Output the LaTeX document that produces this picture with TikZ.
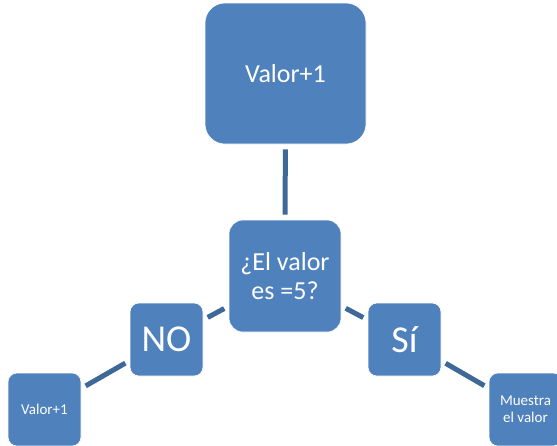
\documentclass[tikz,border=0pt]{standalone}
\usepackage{fontspec}
\setmainfont{Carlito}
\usepackage{tikz}

\definecolor{cajaazul}{RGB}{79,129,189}
\definecolor{lineaazul}{RGB}{62,104,152}

\begin{document}
\begin{tikzpicture}[x=1pt, y=-1pt,
    caja/.style={rectangle, fill=cajaazul, draw=white, line width=0.6pt, text=white, align=center, inner sep=0pt},
    enlace/.style={draw=lineaazul, line width=5pt, shorten <=5pt, shorten >=5pt}]

    \useasboundingbox (0,0) rectangle (557,445);
    \clip (0,0) rectangle (557,445);

    \node[caja, minimum width=161pt, minimum height=141pt, rounded corners=20pt, font=\fontsize{26}{30}\selectfont] (paso) at (285.5,73.5) {Valor+1};

    \node[caja, minimum width=112pt, minimum height=112pt, rounded corners=14pt, font=\fontsize{26}{29.5}\selectfont] (pregunta) at (285,276) {¿El valor\\es =5?};


    \node[caja, minimum width=73pt, minimum height=73pt, rounded corners=9pt, font=\fontsize{38}{44}\selectfont] (no) at (166.5,339.5) {NO};

    \node[caja, minimum width=73pt, minimum height=73pt, rounded corners=9pt, font=\fontsize{38}{44}\selectfont] (si) at (404.5,339.5) {Sí};


    \node[caja, minimum width=73pt, minimum height=73pt, rounded corners=9pt, font=\fontsize{15}{17}\selectfont] (sumar) at (44.5,409.5) {Valor+1};

    \node[caja, minimum width=73pt, minimum height=73pt, rounded corners=9pt, font=\fontsize{15}{17}\selectfont] (mostrar) at (525.5,409.5) {Muestra\\el valor};


    \draw[enlace] (paso) -- (pregunta);

    \draw[enlace] (pregunta) -- (no);

    \draw[enlace] (pregunta) -- (si);

    \draw[enlace] (no) -- (sumar);

    \draw[enlace] (si) -- (mostrar);

\end{tikzpicture}
\end{document}
